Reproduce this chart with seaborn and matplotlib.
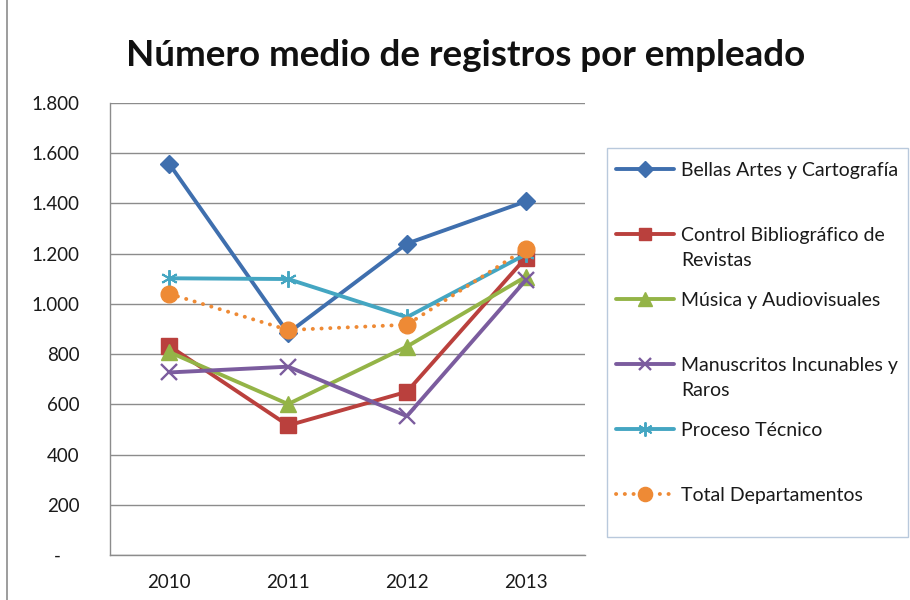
import matplotlib
matplotlib.use("Agg")
import matplotlib.pyplot as plt
from matplotlib.ticker import FuncFormatter, MultipleLocator
from matplotlib.lines import Line2D
from matplotlib.patches import Rectangle
import seaborn as sns
import pandas as pd

years = ["2010", "2011", "2012", "2013"]
series_names = [
    "Bellas Artes y Cartografía",
    "Control Bibliográfico de Revistas",
    "Música y Audiovisuales",
    "Manuscritos Incunables y Raros",
    "Proceso Técnico",
    "Total Departamentos",
]
bellas_artes = [1557, 884, 1240, 1408]
control_biblio = [832, 516, 650, 1183]
musica = [808, 601, 830, 1108]
manuscritos = [727, 750, 553, 1094]
proceso_tecnico = [1102, 1099, 947, 1197]
total_dep = [1040, 896, 917, 1219]
values = [bellas_artes, control_biblio, musica, manuscritos, proceso_tecnico, total_dep]

legend_labels = [
    ("Bellas Artes y Cartografía", None),
    ("Control Bibliográfico de", "Revistas"),
    ("Música y Audiovisuales", None),
    ("Manuscritos Incunables y", "Raros"),
    ("Proceso Técnico", None),
    ("Total Departamentos", None),
]

colors = ["#3F6FAE", "#BA403D", "#94B447", "#7B5C9E", "#44A6C2", "#EE8A35"]
styles = [
    dict(marker="D", markersize=9.5, mew=1),
    dict(marker="s", markersize=11, mew=1),
    dict(marker="^", markersize=12, mew=1),
    dict(marker="x", markersize=11, mew=1.7),
    dict(marker=(6, 2, 0), markersize=12, mew=1.4),
    dict(marker="o", markersize=12, mew=1),
]

rows = []
for name, vals in zip(series_names, values):
    for i, (yr, v) in enumerate(zip(years, vals)):
        rows.append({"serie": name, "pos": i, "year": yr, "valor": v})
df = pd.DataFrame(rows)

sns.set_theme(style="white")
FONT = ["Lato", "DejaVu Sans"]
plt.rcParams["font.family"] = FONT

fig = plt.figure(figsize=(9.1, 6.0), dpi=100)
W, H = 910, 600
ax = fig.add_axes([110 / W, 1 - 555 / H, (585 - 110) / W, (555 - 103) / H])

handles = []
for k, name in enumerate(series_names):
    sub = df[df["serie"] == name]
    st = styles[k]
    ls = (0, (0.05, 2.2)) if name == "Total Departamentos" else "-"
    sns.lineplot(data=sub, x="pos", y="valor", ax=ax, color=colors[k],
                 linewidth=2.8, linestyle=ls, marker=st["marker"],
                 markersize=st["markersize"], markeredgewidth=st["mew"],
                 markeredgecolor=colors[k], markerfacecolor=colors[k],
                 dash_capstyle="round", solid_capstyle="butt", legend=False,
                 zorder=3 + k * 0.1)
    handles.append(Line2D([0], [0], color=colors[k], linewidth=2.8, linestyle=ls,
                          marker=st["marker"], markersize=st["markersize"] * 0.85,
                          markeredgewidth=st["mew"], markeredgecolor=colors[k],
                          markerfacecolor=colors[k], dash_capstyle="round"))

ax.set_xlim(-0.5, 3.5)
ax.set_ylim(0, 1800)
ax.yaxis.set_major_locator(MultipleLocator(200))
ax.set_xticks(range(len(years)))
ax.set_xticklabels(years)


def fmt(v, pos):
    if abs(v) < 1e-9:
        return "-    "
    return f"{int(round(v)):,}".replace(",", ".")


ax.yaxis.set_major_formatter(FuncFormatter(fmt))
ax.set_xlabel("")
ax.set_ylabel("")
ax.grid(axis="y", color="#8C8C8C", linewidth=1.0)
ax.grid(axis="x", visible=False)
ax.set_axisbelow(True)
for s in ["top", "right"]:
    ax.spines[s].set_visible(False)
for s in ["left", "bottom"]:
    ax.spines[s].set_color("#8C8C8C")
    ax.spines[s].set_linewidth(1.0)
ax.tick_params(axis="both", length=0, labelsize=13.5, colors="#1a1a1a")
ax.tick_params(axis="y", pad=22)
ax.tick_params(axis="x", pad=14)
for t in ax.get_yticklabels():
    t.set_horizontalalignment("right")

fig.text(466 / W, 1 - 55 / H, "Número medio de registros por empleado",
         ha="center", va="center", fontsize=26.5, fontweight="bold", color="#111111")

# legend box
fig.patches.append(Rectangle((607 / W, 1 - 537 / H), (908 - 607) / W, (537 - 148) / H,
                             transform=fig.transFigure, facecolor="white",
                             edgecolor="#B9C9DC", linewidth=1.0, zorder=0))
leg = fig.legend(handles, [a for a, b in legend_labels], loc="upper left",
                 bbox_to_anchor=(616 / W, 1 - 162 / H), frameon=False,
                 fontsize=14, handlelength=3.0, handletextpad=0.35,
                 labelspacing=2.47, borderaxespad=0, borderpad=0)
for t in leg.get_texts():
    t.set_color("#1a1a1a")

fig.canvas.draw()
inv = fig.transFigure.inverted()
for t, (a, b) in zip(leg.get_texts(), legend_labels):
    if b:
        bb = t.get_window_extent()
        x0, y0 = inv.transform((bb.x0, bb.y0))
        fig.text(x0, y0 - 8 / H, b, ha="left", va="top", fontsize=14, color="#1a1a1a")

# outer chart frame edge
fig.add_artist(Line2D([7 / W, 7 / W], [0, 1], transform=fig.transFigure,
                      color="#8C8C8C", linewidth=1.2))

fig.savefig("out.png", dpi=100)
